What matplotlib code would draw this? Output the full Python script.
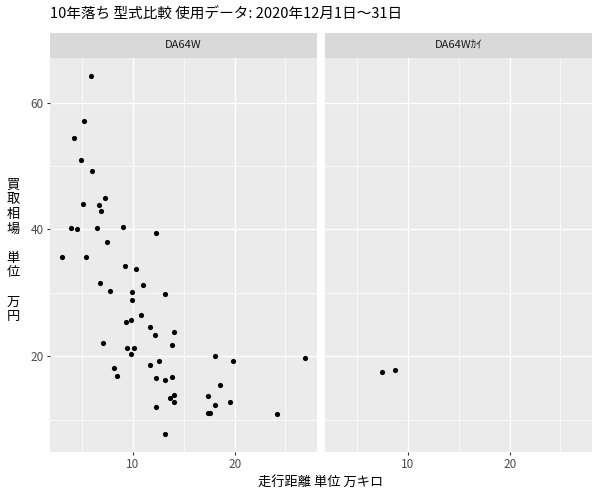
import matplotlib
matplotlib.use("Agg")
import matplotlib.pyplot as plt
from matplotlib.ticker import MultipleLocator

plt.rcParams['font.family'] = ['Noto Sans CJK JP', 'DejaVu Sans']

# 走行距離 (万キロ) / 買取相場 (万円)
models = ["DA64W", "DA64Wｶｲ"]

mileage_da64w = [5.87, 5.18, 4.20, 4.89, 5.97, 7.25, 5.08, 6.66, 6.85, 3.90,
                 4.49, 6.46, 9.02, 12.26, 7.44, 3.02, 5.38, 9.21, 10.30, 6.76,
                 10.98, 7.74, 9.90, 13.15, 9.90, 10.79, 9.80, 9.31, 11.67, 14.03,
                 12.16, 7.05, 13.84, 9.41, 10.10, 9.80, 18.06, 26.91, 19.83, 12.56,
                 11.67, 8.13, 8.43, 12.26, 13.84, 13.15, 18.55, 14.03, 17.37, 13.64,
                 14.03, 19.54, 18.06, 12.26, 17.37, 17.57, 24.16, 13.15]
price_da64w = [64.25, 57.17, 54.49, 51.02, 49.13, 44.88, 43.94, 43.78, 42.83, 40.16,
               40.00, 40.16, 40.31, 39.37, 37.95, 35.59, 35.59, 34.17, 33.70, 31.50,
               31.18, 30.24, 30.08, 29.76, 28.82, 26.46, 25.67, 25.35, 24.57, 23.78,
               23.31, 22.05, 21.73, 21.26, 21.26, 20.31, 20.00, 19.69, 19.21, 19.21,
               18.58, 18.11, 16.85, 16.54, 16.69, 16.22, 15.43, 13.86, 13.70, 13.39,
               12.76, 12.76, 12.28, 11.97, 11.02, 11.02, 10.87, 7.72]

mileage_kai = [7.44, 8.72]
price_kai = [17.48, 17.80]

mileage = [mileage_da64w, mileage_kai]
price = [price_da64w, price_kai]

title = "10年落ち 型式比較 使用データ: 2020年12月1日～31日"
xlabel = "走行距離 単位 万キロ"
ylabel_words = ["買取相場", "単位", "万円"]   # stacked vertically, blank row between words

# shared scales with ggplot-style 5% expansion
all_x = mileage_da64w + mileage_kai
all_y = price_da64w + price_kai
xr = max(all_x) - min(all_x)
yr = max(all_y) - min(all_y)
xlim = (min(all_x) - 0.05 * xr, max(all_x) + 0.05 * xr)
ylim = (min(all_y) - 0.05 * yr, max(all_y) + 0.05 * yr)

W, H = 600, 500
fig = plt.figure(figsize=(W / 100, H / 100), dpi=100)

panel_lefts = [50, 325]
panel_w = 267
panel_top, panel_bottom = 57.7, 452
strip_top = 33.3

for i, model in enumerate(models):
    left = panel_lefts[i]
    ax = fig.add_axes([left / W, 1 - panel_bottom / H, panel_w / W, (panel_bottom - panel_top) / H])
    ax.set_facecolor('#EBEBEB')
    for s in ax.spines.values():
        s.set_visible(False)
    ax.set_xlim(xlim)
    ax.set_ylim(ylim)
    ax.xaxis.set_major_locator(MultipleLocator(10))
    ax.xaxis.set_minor_locator(MultipleLocator(5))
    ax.yaxis.set_major_locator(MultipleLocator(20))
    ax.yaxis.set_minor_locator(MultipleLocator(10))
    ax.grid(which='major', color='white', linewidth=1.0)
    ax.grid(which='minor', color='white', linewidth=0.5)
    ax.set_axisbelow(True)
    ax.tick_params(which='minor', length=0)
    ax.tick_params(which='major', length=2.5, width=0.8, color='#333333',
                   labelcolor='#4D4D4D', labelsize=8.5, pad=2)
    if i > 0:
        ax.tick_params(axis='y', which='both', left=False, labelleft=False)

    ax.scatter(mileage[i], price[i], s=14, color='black', linewidths=0, zorder=3)

    # facet strip
    sax = fig.add_axes([left / W, 1 - panel_top / H, panel_w / W, (panel_top - strip_top) / H])
    sax.set_facecolor('#D9D9D9')
    sax.set_xticks([])
    sax.set_yticks([])
    for s in sax.spines.values():
        s.set_visible(False)
    sax.text(0.5, 0.5, model, ha='center', va='center', fontsize=8, color='#1A1A1A',
             transform=sax.transAxes)

fig.text(50 / W, 1 - 15 / H, title, ha='left', va='center', fontsize=10.5, color='black')
fig.text((50 + 592) / 2 / W, 1 - 483 / H, xlabel, ha='center', va='center', fontsize=9.5, color='black')

# vertical y label: one glyph per row, 14.6 px pitch
rows = []
for k, word in enumerate(ylabel_words):
    if k:
        rows.append("")
    rows.extend(word)
pitch = 14.6
y0 = 251 - pitch * (len(rows) - 1) / 2
for k, ch in enumerate(rows):
    if ch:
        fig.text(13 / W, 1 - (y0 + k * pitch) / H, ch, ha='center', va='center',
                 fontsize=9.5, color='black')

fig.savefig("out.png", dpi=100)
